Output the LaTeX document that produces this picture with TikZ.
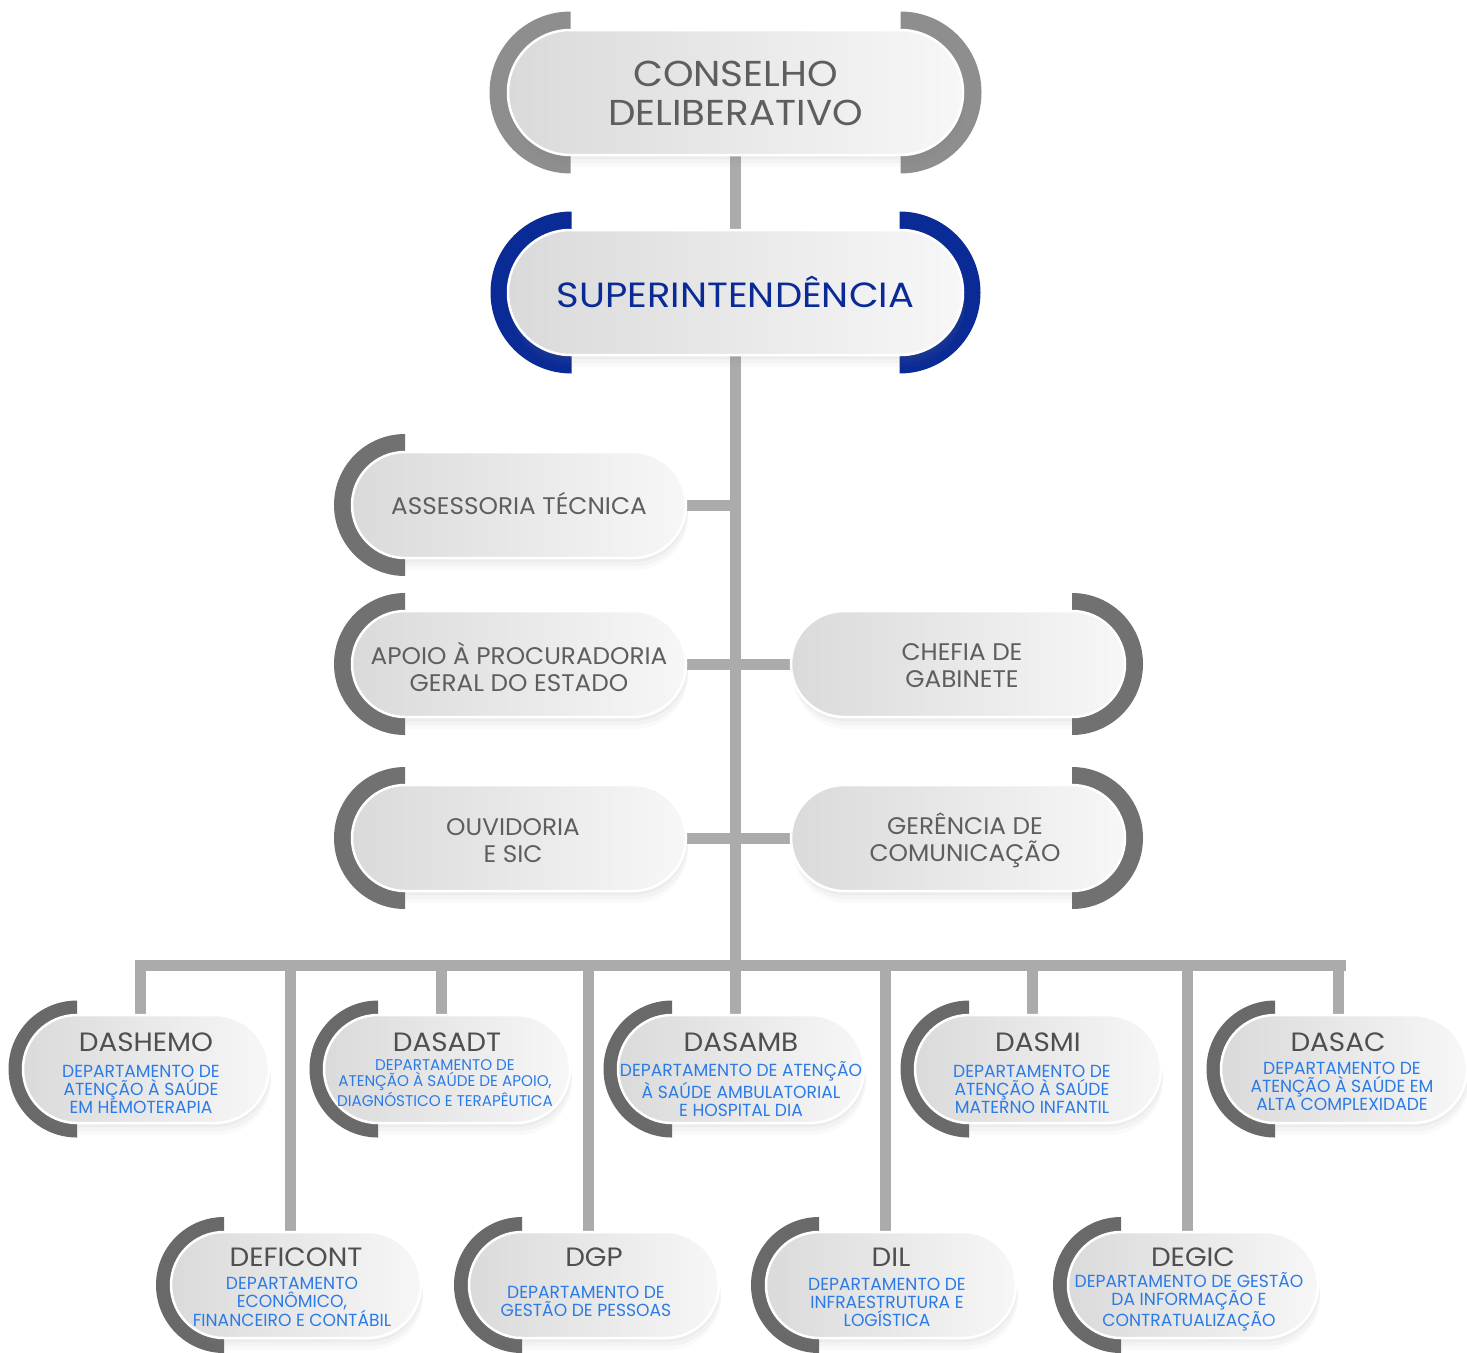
\documentclass[tikz,border=0pt]{standalone}
\usepackage{fontspec}
\setmainfont{Poppins}
\newfontfamily\subf[FakeStretch=0.98]{Poppins}
\newfontfamily\topf[FakeStretch=1.08]{Poppins}
\newfontfamily\supf[FakeStretch=1.1]{Poppins}
\newfontfamily\midf[FakeStretch=1.03]{Poppins}
\newfontfamily\ttlf[FakeStretch=1.05]{Poppins}
\usetikzlibrary{shapes.misc,shadows,calc}
\definecolor{conn}{HTML}{ABABAB}
\definecolor{brtop}{HTML}{8E8E8E}
\definecolor{brmid}{HTML}{717171}
\definecolor{brlow}{HTML}{696969}
\definecolor{supblue}{HTML}{0A2B96}
\definecolor{subblue}{HTML}{2B7BE6}
\definecolor{txtgray}{HTML}{5E5E5E}
\definecolor{ttlgray}{HTML}{4F4F4F}
\definecolor{pillA}{HTML}{DADADA}
\definecolor{pillB}{HTML}{F7F7F7}
\pgfdeclarelayer{bg}
\pgfdeclarelayer{brk}
\pgfsetlayers{bg,brk,main}
\newcommand\lbrk[4]{\fill[#4] ($(#1.west)+(#2,#3)$) arc[start angle=90,end angle=270,radius=#3pt] -- ++(0,#3-#2) arc[start angle=270,end angle=90,radius=#2pt] -- cycle;}
\newcommand\rbrk[4]{\fill[#4] ($(#1.east)+(-#2,#3)$) arc[start angle=90,end angle=-90,radius=#3pt] -- ++(0,#3-#2) arc[start angle=-90,end angle=90,radius=#2pt] -- cycle;}
\tikzset{
  pill/.style={rounded rectangle, draw=white, line width=2.5pt, left color=pillA, right color=pillB,
    outer sep=0pt, inner sep=0pt,
    drop shadow={shadow xshift=2pt, shadow yshift=-12pt, opacity=0.04},
    drop shadow={shadow xshift=2pt, shadow yshift=-8pt, opacity=0.06},
    drop shadow={shadow xshift=1pt, shadow yshift=-4pt, opacity=0.06}},
  pilltop/.style={pill, minimum width=455pt, minimum height=125pt},
  pillmid/.style={pill, minimum width=334pt, minimum height=106pt},
  pillrowa/.style={pill, minimum width=246pt, minimum height=108pt},
  pillrowb/.style={pill, minimum width=250pt, minimum height=106pt},
  conline/.style={draw=conn, line width=11pt},
  ttop/.style={align=center, font=\topf\fontsize{36}{39}\selectfont, inner sep=0pt},
  tmid/.style={align=center, font=\midf\fontsize{24}{27}\selectfont, text=txtgray, inner sep=0pt},
  ttl/.style={align=center, font=\ttlf\fontsize{26.5}{30}\selectfont, text=ttlgray, inner sep=0pt},
  tsub/.style={align=center, font=\subf\fontsize{17.5}{18}\selectfont, text=subblue, inner sep=0pt},
  tsubs/.style={align=center, font=\subf\fontsize{15.5}{16}\selectfont, text=subblue, inner sep=0pt}
}
\begin{document}
\begin{tikzpicture}[x=1pt,y=1pt]
\useasboundingbox (0,0) rectangle (1467,-1352);

% top nodes
\node[pilltop] (cons) at (735.5,-92.5) {};
\node[pilltop] (sup) at (735.5,-292.5) {};
% middle nodes
\node[pillmid] (assess) at (519,-505) {};
\node[pillmid] (apoio) at (519,-664) {};
\node[pillmid] (ouv) at (519,-838) {};
\node[pillmid] (chefia) at (958,-664) {};
\node[pillmid] (ger) at (958,-838) {};
% row 1
\node[pillrowa] (dashemo) at (146,-1069) {};
\node[pillrowa] (dasadt) at (447,-1069) {};
\node[pillrowa] (dasamb) at (741,-1069) {};
\node[pillrowa] (dasmi) at (1038,-1069) {};
\node[pillrowa] (dasac) at (1344,-1069) {};
% row 2
\node[pillrowb] (deficont) at (296,-1285) {};
\node[pillrowb] (dgp) at (594,-1285) {};
\node[pillrowb] (dil) at (891,-1285) {};
\node[pillrowb] (degic) at (1193,-1285) {};

% texts
\node[ttop, text=txtgray] (cons-t) at ([yshift=-1pt]cons.center) {CONSELHO\\DELIBERATIVO};
\node[ttop, text=supblue, font=\supf\fontsize{35}{38}\selectfont] (sup-t) at ([yshift=1pt]sup.center) {SUPERINTENDÊNCIA};
\node[tmid] (assess-t) at ([yshift=2pt]assess.center) {ASSESSORIA TÉCNICA};
\node[tmid] (apoio-t) at ([yshift=-3pt]apoio.center) {APOIO À PROCURADORIA\\GERAL DO ESTADO};
\node[tmid] (ouv-t) at ([xshift=-6pt,yshift=-3pt]ouv.center) {OUVIDORIA\\E SIC};
\node[tmid] (chefia-t) at ([xshift=4pt,yshift=-2pt]chefia.center) {CHEFIA DE\\GABINETE};
\node[tmid] (ger-t) at ([xshift=7pt,yshift=-2pt]ger.center) {GERÊNCIA DE\\COMUNICAÇÃO};

\node[ttl] (dashemo-t) at ([yshift=27pt]dashemo.center) {DASHEMO};
\node[tsub] (dashemo-s) at ([xshift=-5pt,yshift=-20pt]dashemo.center) {DEPARTAMENTO DE\\ATENÇÃO À SAÚDE\\EM HEMOTERAPIA};
\node[ttl] (dasadt-t) at ([yshift=27pt]dasadt.center) {DASADT};
\node[tsubs] (dasadt-s) at ([xshift=-2pt,yshift=-14pt]dasadt.center) {DEPARTAMENTO DE\\ATENÇÃO À SAÚDE DE APOIO,\\DIAGNÓSTICO E TERAPÊUTICA};
\node[ttl] (dasamb-t) at ([yshift=27pt]dasamb.center) {DASAMB};
\node[tsub] (dasamb-s) at ([yshift=-20pt]dasamb.center) {DEPARTAMENTO DE ATENÇÃO\\À SAÚDE AMBULATORIAL\\E HOSPITAL DIA};
\node[ttl] (dasmi-t) at ([yshift=27pt]dasmi.center) {DASMI};
\node[tsub] (dasmi-s) at ([xshift=-6pt,yshift=-20pt]dasmi.center) {DEPARTAMENTO DE\\ATENÇÃO À SAÚDE\\MATERNO INFANTIL};
\node[ttl] (dasac-t) at ([xshift=-6pt,yshift=27pt]dasac.center) {DASAC};
\node[tsub] (dasac-s) at ([xshift=-2pt,yshift=-17pt]dasac.center) {DEPARTAMENTO DE\\ATENÇÃO À SAÚDE EM\\ALTA COMPLEXIDADE};

\node[ttl] (deficont-t) at ([yshift=28pt]deficont.center) {DEFICONT};
\node[tsub] (deficont-s) at ([xshift=-4pt,yshift=-17pt]deficont.center) {DEPARTAMENTO\\ECONÔMICO,\\FINANCEIRO E CONTÁBIL};
\node[ttl] (dgp-t) at ([yshift=28pt]dgp.center) {DGP};
\node[tsub] (dgp-s) at ([xshift=-8pt,yshift=-16pt]dgp.center) {DEPARTAMENTO DE\\GESTÃO DE PESSOAS};
\node[ttl] (dil-t) at ([yshift=28pt]dil.center) {DIL};
\node[tsub] (dil-s) at ([xshift=-4pt,yshift=-17pt]dil.center) {DEPARTAMENTO DE\\INFRAESTRUTURA E\\LOGÍSTICA};
\node[ttl] (degic-t) at ([yshift=28pt]degic.center) {DEGIC};
\node[tsub] (degic-s) at ([xshift=-4pt,yshift=-17pt]degic.center) {DEPARTAMENTO DE GESTÃO\\DA INFORMAÇÃO E\\CONTRATUALIZAÇÃO};

% brackets
\begin{pgfonlayer}{brk}
\lbrk{cons}{62.5}{81}{brtop}
\rbrk{cons}{62.5}{81}{brtop}
\lbrk{sup}{63.5}{81}{supblue}
\rbrk{sup}{63.5}{81}{supblue}
\lbrk{assess}{53}{71}{brmid}
\lbrk{apoio}{53}{71}{brmid}
\lbrk{ouv}{53}{71}{brmid}
\rbrk{chefia}{53}{71}{brmid}
\rbrk{ger}{53}{71}{brmid}
\foreach \n in {dashemo,dasadt,dasamb,dasmi,dasac}{\lbrk{\n}{54}{68.5}{brlow}}
\foreach \n in {deficont,dgp,dil,degic}{\lbrk{\n}{53}{68}{brlow}}
\end{pgfonlayer}

% connectors
\coordinate (busL) at (140,-965);
\coordinate (busR) at (1340,-965);
\begin{pgfonlayer}{bg}
\draw[conline] (cons.south) -- (sup.north);
\draw[conline] (sup.south) -- (sup.south |- busL);
\draw[conline, line cap=rect] (busL) -- (busR);
\draw[conline] (assess.east) -- (assess.east -| sup.south);
\draw[conline] (apoio.east) -- (chefia.west);
\draw[conline] (ouv.east) -- (ger.west);
\foreach \n in {dashemo,dasadt,dasamb,dasmi,dasac,deficont,dgp,dil,degic}{
  \draw[conline] ([xshift=-6pt]\n.north) -- ([xshift=-6pt]\n.north |- busL);}
\end{pgfonlayer}
\end{tikzpicture}
\end{document}
